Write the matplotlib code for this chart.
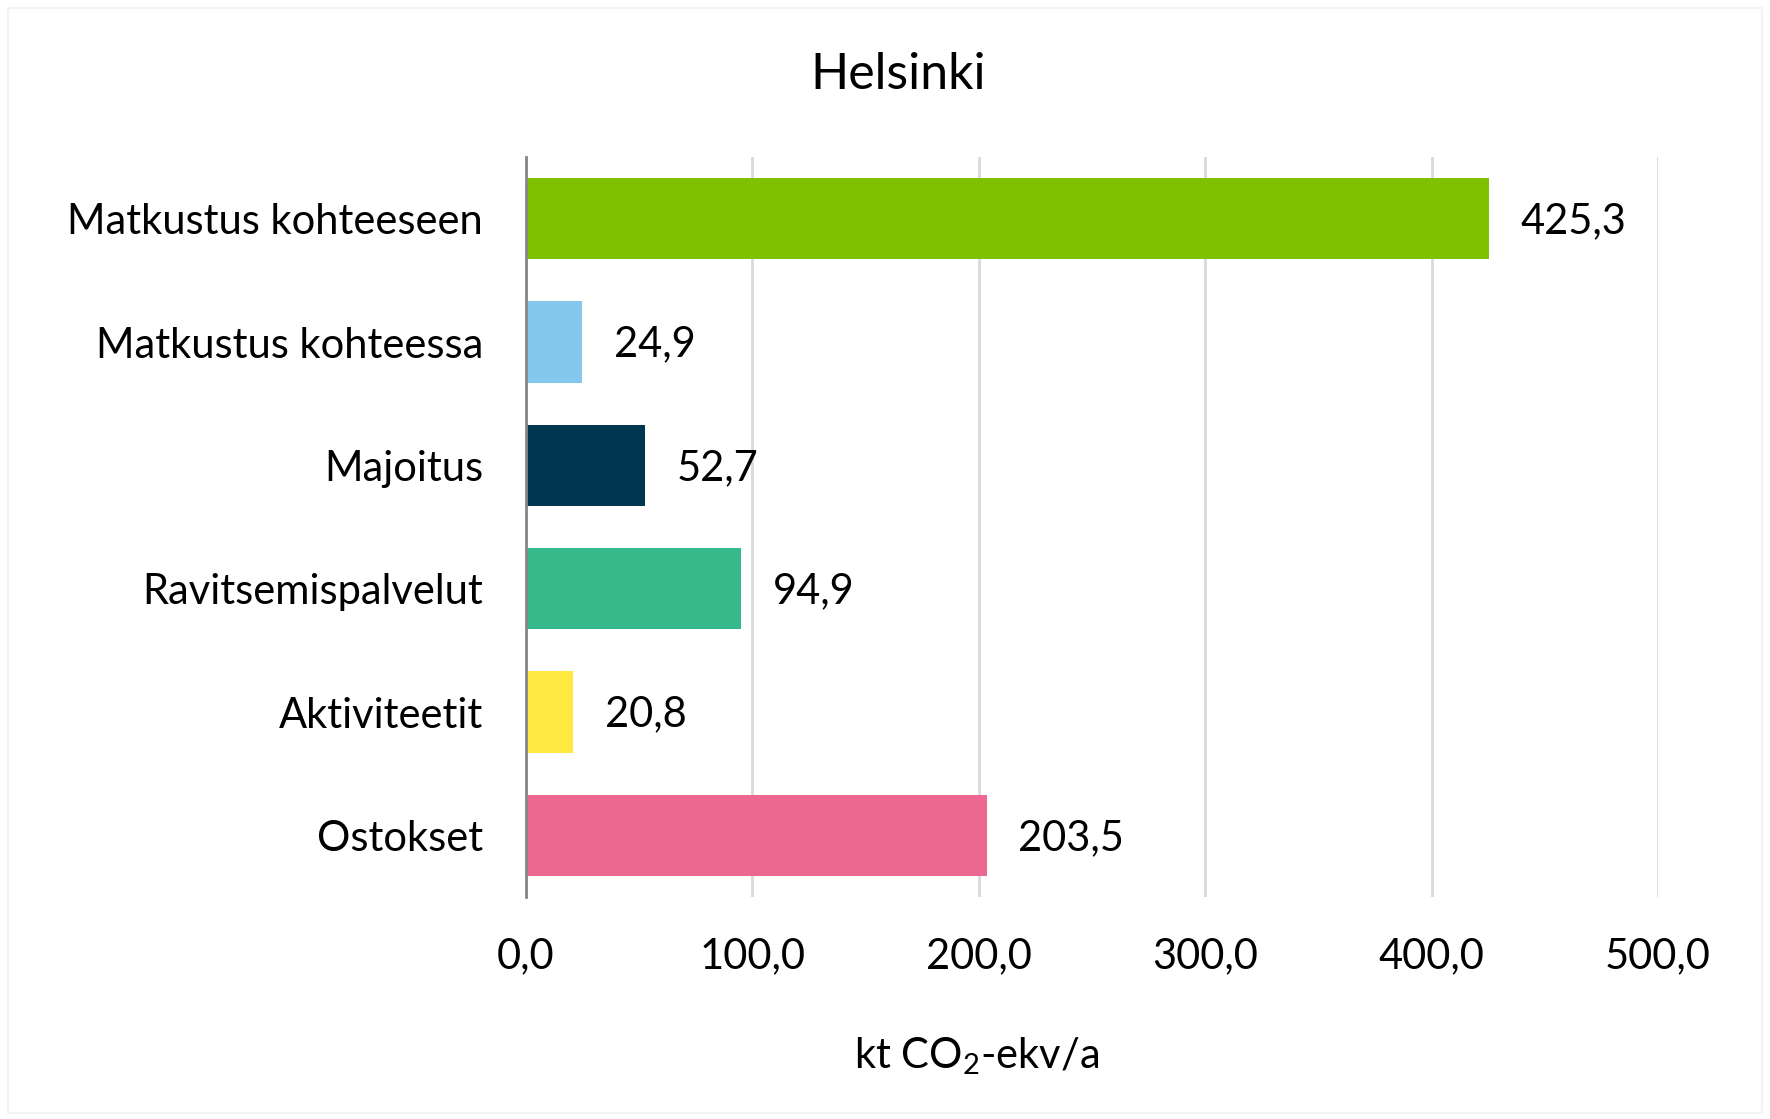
import matplotlib
matplotlib.use('Agg')
import matplotlib.pyplot as plt
from matplotlib.patches import Rectangle

categories = ['Matkustus kohteeseen', 'Matkustus kohteessa', 'Majoitus',
              'Ravitsemispalvelut', 'Aktiviteetit', 'Ostokset']
values = [425.3, 24.9, 52.7, 94.9, 20.8, 203.5]
colors = ['#7FC100', '#85C8EE', '#003650', '#36B98B', '#FFE940', '#EC6890']
xticks = [0, 100, 200, 300, 400, 500]

plt.rcParams['font.family'] = ['Lato', 'DejaVu Sans']
plt.rcParams['mathtext.fontset'] = 'custom'
plt.rcParams['mathtext.rm'] = 'Lato'
plt.rcParams['mathtext.default'] = 'regular'

def fmt(v):
    return ('%.1f' % v).replace('.', ',')

fig = plt.figure(figsize=(17.7, 11.19), dpi=100)
W, H = 1770, 1119
# faint outer frame
fig.patches.append(Rectangle((8 / W, 6 / H), (W - 16) / W, (H - 14) / H,
                             transform=fig.transFigure, fill=False,
                             edgecolor='#F3F3F3', linewidth=1.5))

ax = fig.add_axes([526 / W, (H - 897) / H, (1658 - 526) / W, 740 / H])

y = list(range(len(categories)))
ax.barh(y, values, height=0.66, color=colors, zorder=3)
ax.set_ylim(len(categories) - 0.5, -0.5)
ax.set_xlim(0, 500)

for yi, v in zip(y, values):
    ax.text(v + 14, yi + 0.02, fmt(v), va='center', ha='left',
            fontsize=30, color='#000000')

ax.set_yticks(y)
ax.set_yticklabels(categories, fontsize=30)
ax.set_xticks(xticks)
ax.set_xticklabels([fmt(t) for t in xticks], fontsize=30)
ax.tick_params(axis='both', length=0, colors='#000000')
ax.tick_params(axis='y', pad=31)
ax.tick_params(axis='x', pad=29)

ax.grid(axis='x', color='#D9D9D9', linewidth=2, zorder=0)
for s in ['top', 'right', 'bottom']:
    ax.spines[s].set_visible(False)
ax.spines['left'].set_color('#868686')
ax.spines['left'].set_linewidth(2)
ax.spines['left'].set_zorder(4)

fig.text(977 / W, 1 - 1056 / H, 'kt CO$_2$-ekv/a', ha='center', va='center',
         fontsize=30)
fig.text(898 / W, 1 - 75 / H, 'Helsinki', ha='center', va='center', fontsize=36)

fig.savefig('out.png', dpi=100, facecolor='white')
